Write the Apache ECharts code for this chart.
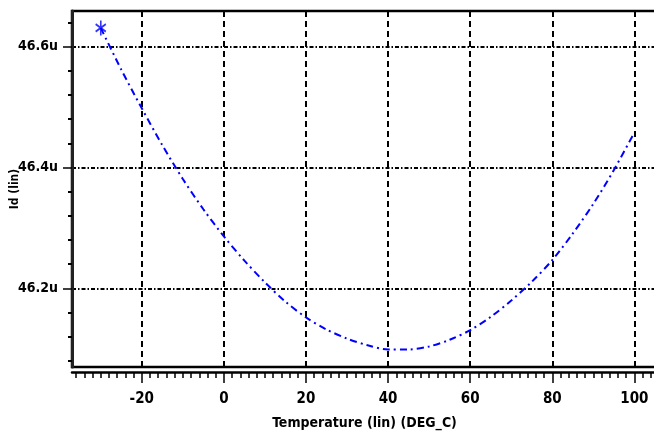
<!DOCTYPE html>
<html><head><meta charset="utf-8">
<script src="https://cdn.jsdelivr.net/npm/echarts@6/dist/echarts.min.js"></script>
<style>html,body{margin:0;padding:0;background:#fff}#c{width:654px;height:433px}</style>
</head><body><div id="c"></div>
<script>
// Data
const temperature = [-30, -25, -20, -15, -10, -5, 0, 5, 10, 15, 20, 25, 30, 35, 40, 45, 50, 55, 60, 65, 70, 75, 80, 85, 90, 95, 100];
const idValues = [46.631, 46.562, 46.498, 46.437, 46.381, 46.331, 46.286, 46.246, 46.210, 46.178, 46.152, 46.132, 46.117, 46.106, 46.099, 46.099, 46.104, 46.115, 46.131, 46.153, 46.180, 46.211, 46.247, 46.291, 46.340, 46.396, 46.458];
const markerIndex = [0];
// Tick values
const xMajorTicks = [-20, 0, 20, 40, 60, 80, 100];
const xMinorTicks = [-36,-34,-32,-30,-28,-26,-24,-22,-18,-16,-14,-12,-10,-8,-6,-4,-2,2,4,6,8,10,12,14,16,18,22,24,26,28,30,32,34,36,38,42,44,46,48,50,52,54,56,58,62,64,66,68,70,72,74,76,78,82,84,86,88,90,92,94,96,98,102,104];
const yMajorTicks = [46.2, 46.4, 46.6];
const yMinorTicks = [46.08, 46.12, 46.16, 46.24, 46.28, 46.32, 46.36, 46.44, 46.48, 46.52, 46.56, 46.64];
const xName = 'Temperature (lin) (DEG_C)';
const yName = 'Id (lin)';

const FONT = '"Liberation Sans Narrow", "DejaVu Sans Condensed", sans-serif';
const XMIN = -37, XMAX = 105.5, YMIN = 46.07, YMAX = 46.659;

const chart = echarts.init(document.getElementById('c'), null, {renderer: 'canvas'});
chart.setOption({
  animation: false,
  grid: {left: 72, right: -3, top: 11, bottom: 66, show: true, borderColor: '#000', borderWidth: 2.5,
    backgroundColor: 'transparent', containLabel: false, outerBoundsMode: 'none'},
  xAxis: [{
    type: 'value', min: XMIN, max: XMAX, position: 'bottom', offset: 5,
    name: xName, nameLocation: 'middle', nameGap: 44, nameMoveOverlap: false,
    nameTextStyle: {fontFamily: FONT, fontWeight: 'bold', fontSize: 14, color: '#000'},
    axisLine: {show: true, onZero: false, lineStyle: {color: '#000', width: 2.5}},
    axisTick: {show: true, inside: false, length: 11, customValues: xMajorTicks, lineStyle: {color: '#000', width: 1.5}},
    axisLabel: {show: true, margin: 20, customValues: xMajorTicks, fontFamily: FONT, fontWeight: 'bold', fontSize: 15, color: '#000'},
    splitLine: {show: true, lineStyle: {color: '#000', width: 2, type: [6, 4]}},
    minorTick: {show: false}
  }, {
    type: 'value', min: XMIN, max: XMAX, position: 'bottom', offset: 5, gridIndex: 0,
    axisLine: {show: false, onZero: false},
    axisTick: {show: true, inside: false, length: 6, customValues: xMinorTicks, lineStyle: {color: '#000', width: 1.5}},
    axisLabel: {show: false},
    splitLine: {show: false}
  }],
  yAxis: [{
    type: 'value', min: YMIN, max: YMAX, position: 'left',
    name: yName, nameLocation: 'middle', nameGap: 57, nameRotate: 90, nameMoveOverlap: false,
    nameTextStyle: {fontFamily: FONT, fontWeight: 'bold', fontSize: 12, color: '#000', verticalAlign: 'middle'},
    axisLine: {show: true, onZero: false, lineStyle: {color: '#222', width: 3}},
    axisTick: {show: true, inside: false, length: 9, customValues: yMajorTicks, lineStyle: {color: '#000', width: 1.5}},
    axisLabel: {show: true, margin: 14, customValues: yMajorTicks, fontFamily: FONT, fontWeight: 'bold', fontSize: 14, color: '#000',
      formatter: v => v.toFixed(1) + 'u'},
    splitLine: {show: true, lineStyle: {color: '#000', width: 2, type: [4, 2, 1.5, 2]}}
  }, {
    type: 'value', min: YMIN, max: YMAX, position: 'left', gridIndex: 0,
    axisLine: {show: false, onZero: false},
    axisTick: {show: true, inside: false, length: 4, customValues: yMinorTicks, lineStyle: {color: '#000', width: 2}},
    axisLabel: {show: false},
    splitLine: {show: false}
  }],
  series: [{
    type: 'line', xAxisIndex: 0, yAxisIndex: 0,
    data: temperature.map((t, i) => [t, idValues[i]]),
    smooth: 0.3, showSymbol: false, symbol: 'none',
    lineStyle: {color: '#0000ff', width: 2, type: [7, 4, 2, 4]}
  }, {
    type: 'scatter', xAxisIndex: 0, yAxisIndex: 0,
    data: markerIndex.map(i => [temperature[i], idValues[i]]),
    symbol: 'path://M8.6,0L11.4,0L11.4,20L8.6,20Z M1.8,3.8L19.4,13.8L18.0,16.2L0.4,6.2Z M0.4,13.8L18.0,3.8L19.4,6.2L1.8,16.2Z',
    symbolSize: [11, 15],
    itemStyle: {color: '#0000ff'}
  }]
});
</script></body></html>
